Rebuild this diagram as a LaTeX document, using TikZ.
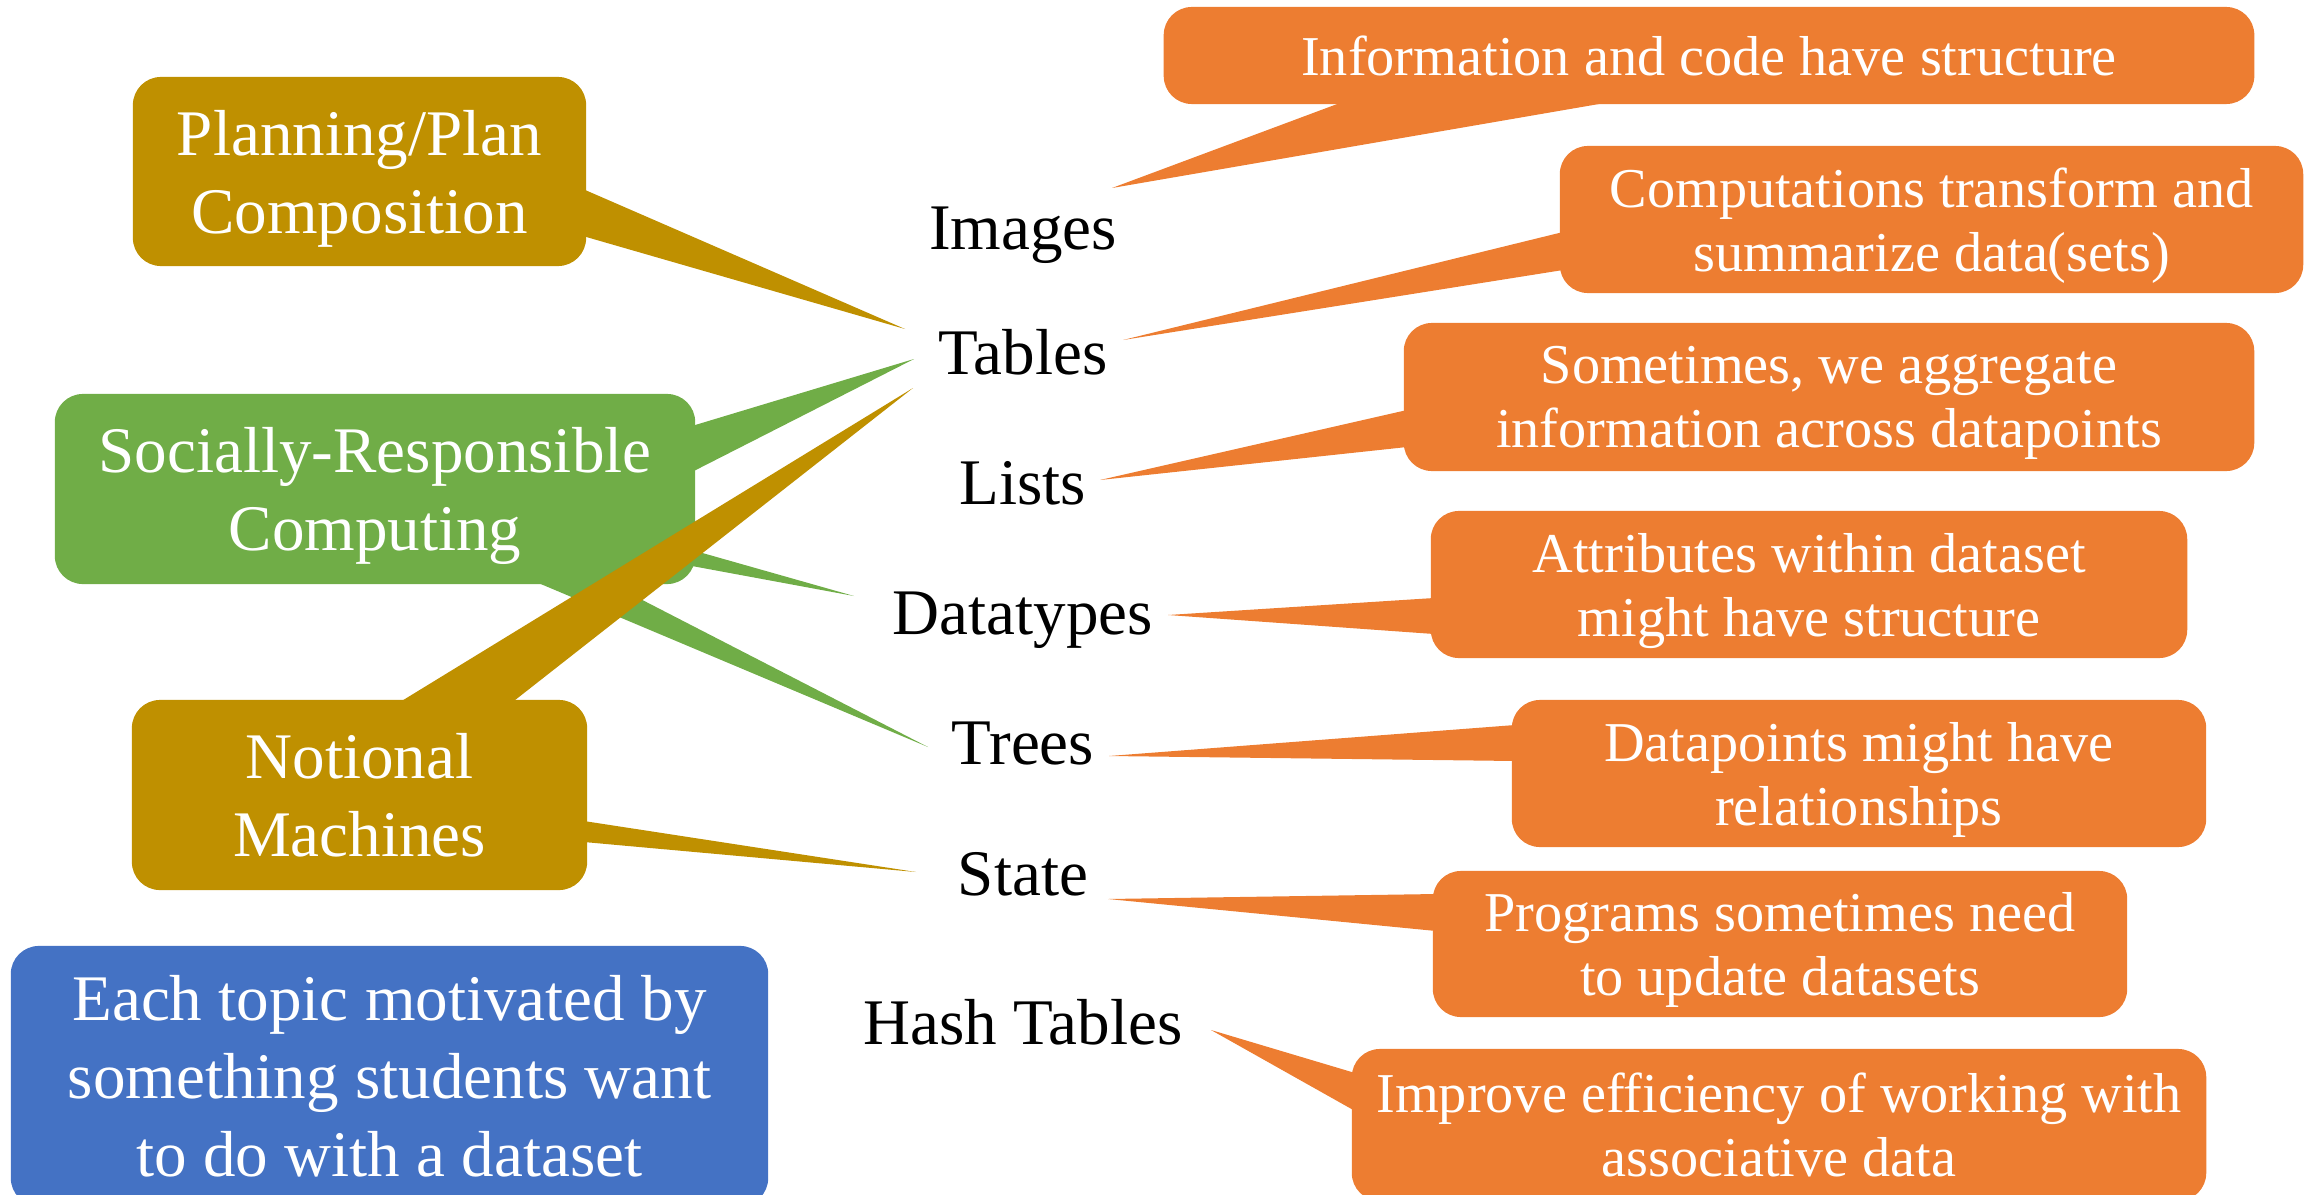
\documentclass[tikz,border=0pt]{standalone}
\usepackage{fontspec}
\setmainfont{Liberation Serif}

\definecolor{gold}{HTML}{BF9000}
\definecolor{leaf}{HTML}{70AD47}
\definecolor{sky}{HTML}{4472C4}
\definecolor{tangerine}{HTML}{ED7D31}

\tikzset{
  bubble/.style={rounded corners=8pt, inner sep=0pt, align=center, text=white, text depth=0pt},
  theme/.style={bubble, font=\fontsize{18.5}{22.2}\selectfont},
  note/.style={bubble, fill=tangerine, font=\fontsize{16}{18.2}\selectfont},
  topic/.style={anchor=base, inner sep=0pt, font=\fontsize{18.5}{22}\selectfont}
}

\begin{document}
\begin{tikzpicture}[x=0.01cm, y=-0.01cm]
\useasboundingbox (0,0) rectangle (2313,1194);
\clip (0,0) rectangle (2313,1194);

% topics down the middle
\foreach \n/\t/\y in {images/Images/249, tables/Tables/374, lists/Lists/504,
    datatypes/Datatypes/634, trees/Trees/764, state/State/895, hash/Hash Tables/1044}
  \node[topic] (\n) at (1023,\y) {\t};

% themes on the left, each pointing at the topics
\node[theme, fill=gold, minimum width=4.53cm, minimum height=1.89cm] (plan) at (359.5,171.5) {Planning/Plan\\Composition};
\fill[gold] ([shift={(-4,17.5)}]plan.east) -- ([shift={(-118,-45)}]tables.base) -- ([shift={(-4,64.5)}]plan.east) -- cycle;

\node[theme, fill=leaf, minimum width=6.4cm, minimum height=1.9cm] (src) at (375,489) {Socially-Responsible\\Computing};
\fill[leaf] ([shift={(-4,-63)}]src.east) -- ([shift={(-109,-15)}]tables.base) -- ([shift={(-4,-17)}]src.east) -- cycle;
\fill[leaf] ([shift={(-4,61)}]src.east) -- ([shift={(-169,-38)}]datatypes.base) -- ([shift={(-4,77)}]src.east) -- cycle;
\fill[leaf] ([shift={(158,-4)}]src.south) -- ([shift={(-95,-17)}]trees.base) -- ([shift={(230,-4)}]src.south) -- cycle;

\node[theme, fill=gold, minimum width=4.55cm, minimum height=1.9cm] (nm) at (359.5,795) {Notional\\Machines};
\fill[gold] ([shift={(38.5,4)}]nm.north) -- ([shift={(-110,14)}]tables.base) -- ([shift={(151.5,4)}]nm.north) -- cycle;
\fill[gold] ([shift={(-4,26)}]nm.east) -- ([shift={(-107,-23)}]state.base) -- ([shift={(-4,47)}]nm.east) -- cycle;

\node[theme, fill=sky, minimum width=7.57cm, minimum height=2.6cm] (motive) at (389.5,1076) {Each topic motivated by\\something students want\\to do with a dataset};

% what each topic is about
\node[note, minimum width=10.9cm, minimum height=0.97cm] (structure) at (1709,55.5) {Information and code have structure};
\fill[tangerine] ([shift={(-363,-4)}]structure.south) -- ([shift={(89,-61)}]images.base) -- ([shift={(-91,-4)}]structure.south) -- cycle;

\node[note, minimum width=7.43cm, minimum height=1.47cm] (compute) at (1931.5,219.5) {Computations transform and\\summarize data(sets)};
\fill[tangerine] ([shift={(4,12.5)}]compute.west) -- ([shift={(100,-34)}]tables.base) -- ([shift={(4,50.5)}]compute.west) -- cycle;

\node[note, minimum width=8.5cm, minimum height=1.48cm] (aggregate) at (1829,397) {Sometimes, we aggregate\\information across datapoints};
\fill[tangerine] ([shift={(4,13)}]aggregate.west) -- ([shift={(77,-24)}]lists.base) -- ([shift={(4,50)}]aggregate.west) -- cycle;

\node[note, minimum width=7.56cm, minimum height=1.47cm] (attrib) at (1809,584.5) {Attributes within dataset\\might have structure};
\fill[tangerine] ([shift={(4,13.5)}]attrib.west) -- ([shift={(145,-19)}]datatypes.base) -- ([shift={(4,49.5)}]attrib.west) -- cycle;

\node[note, minimum width=6.94cm, minimum height=1.47cm] (relate) at (1859,773.5) {Datapoints might have\\relationships};
\fill[tangerine] ([shift={(4,-48.5)}]relate.west) -- ([shift={(86,-8)}]trees.base) -- ([shift={(4,-12.5)}]relate.west) -- cycle;

\node[note, minimum width=6.94cm, minimum height=1.46cm] (update) at (1780,944) {Programs sometimes need\\to update datasets};
\fill[tangerine] ([shift={(4,-50)}]update.west) -- ([shift={(85,4)}]state.base) -- ([shift={(4,-13)}]update.west) -- cycle;

\node[note, minimum width=8.54cm, minimum height=1.52cm] (assoc) at (1779,1125) {Improve efficiency of working with\\associative data};
\fill[tangerine] ([shift={(4,-52)}]assoc.west) -- ([shift={(188,-14)}]hash.base) -- ([shift={(4,-14)}]assoc.west) -- cycle;
\end{tikzpicture}
\end{document}
